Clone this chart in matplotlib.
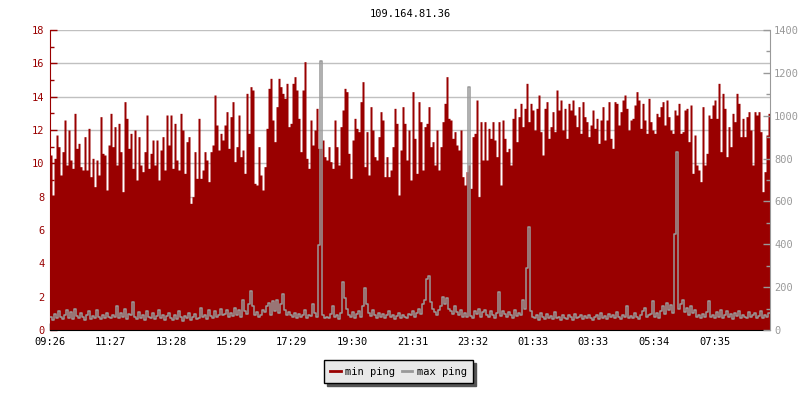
import numpy as np
import matplotlib
matplotlib.use("Agg")
import matplotlib.pyplot as plt
from matplotlib.lines import Line2D

title = "109.164.81.36"
start = "09:26"
step_min = 4  # one sample every 4 minutes, 24 h in total
tick_labels = ["09:26", "11:27", "13:28", "15:29", "17:29", "19:30",
               "21:31", "23:32", "01:33", "03:33", "05:34", "07:35"]
series_names = ["min ping", "max ping"]

# min ping (ms, left axis), one row = 2 hours
min_ping = [
    10.5, 8.1, 10.3, 11.7, 11.0, 9.3, 10.7, 12.6, 9.9, 12.0, 10.2, 9.7, 13.0, 10.9, 11.2,
    9.8, 9.6, 11.6, 9.6, 12.1, 9.2, 10.3, 8.6, 10.2, 9.3, 12.8, 10.6, 10.5, 8.4, 11.1,
    13.0, 11.0, 12.2, 9.9, 12.4, 10.7, 8.3, 13.7, 12.7, 10.9, 11.8, 9.7, 12.0, 9.0, 11.6,
    9.9, 9.5, 10.7, 12.9, 9.7, 10.6, 11.4, 9.9, 11.4, 9.0, 10.8, 11.6, 9.6, 12.9, 11.1,
    12.9, 9.7, 12.4, 10.2, 9.6, 13.0, 12.0, 9.4, 11.3, 11.6, 7.6, 8.0, 10.7, 9.1, 12.7,
    9.1, 9.6, 10.7, 10.2, 8.9, 10.7, 11.1, 14.1, 12.3, 10.8, 11.8, 11.4, 12.3, 13.1, 10.9,
    12.8, 13.7, 10.1, 11.0, 12.9, 10.4, 10.8, 9.4, 14.2, 11.8, 14.6, 14.4, 8.8, 8.7, 11.0,
    9.3, 8.4, 9.8, 12.1, 14.5, 15.1, 12.6, 11.3, 13.4, 15.1, 14.6, 14.2, 13.9, 14.8, 12.2,
    12.4, 14.8, 15.2, 14.4, 12.7, 10.7, 14.4, 16.1, 10.3, 9.7, 12.6, 11.1, 12.0, 13.3, 10.9,
    10.9, 11.4, 10.4, 10.2, 11.0, 10.1, 9.7, 12.6, 11.0, 9.9, 12.2, 13.2, 14.5, 14.3, 10.6,
    9.1, 11.4, 12.7, 12.1, 11.9, 13.7, 14.9, 9.8, 11.9, 9.3, 13.4, 12.0, 10.4, 10.2, 11.6,
    13.1, 12.6, 9.2, 10.4, 9.2, 9.6, 11.0, 13.3, 12.4, 8.1, 10.8, 13.4, 12.4, 10.2, 12.0,
    9.0, 14.3, 11.5, 9.4, 13.7, 12.5, 9.6, 12.2, 12.4, 13.4, 11.0, 11.3, 9.9, 12.0, 9.6,
    11.0, 12.5, 13.6, 15.2, 12.7, 12.6, 11.5, 11.9, 11.1, 10.8, 12.0, 9.2, 8.7, 9.5, 9.9,
    8.5, 11.6, 11.8, 13.8, 8.0, 12.5, 10.2, 12.5, 10.2, 12.1, 11.5, 12.5, 11.4, 10.4, 12.5,
    8.7, 12.6, 11.5, 10.7, 10.9, 9.9, 12.7, 13.3, 11.3, 12.8, 13.6, 12.2, 13.3, 14.8, 12.5,
    13.6, 13.2, 12.0, 13.3, 14.1, 11.9, 10.5, 13.3, 13.7, 11.5, 12.2, 13.1, 11.9, 14.4, 13.2,
    13.8, 12.0, 13.3, 11.5, 13.6, 13.2, 13.8, 12.9, 12.2, 13.4, 11.8, 13.7, 12.8, 12.5, 11.6,
    12.3, 13.2, 12.1, 12.7, 11.2, 12.6, 13.4, 11.4, 12.6, 13.7, 11.5, 10.9, 13.7, 13.6, 12.3,
    13.1, 13.8, 14.1, 13.3, 12.0, 12.6, 12.7, 13.5, 14.3, 13.8, 12.1, 13.6, 12.6, 11.8, 13.9,
    12.5, 12.0, 11.8, 13.0, 12.8, 13.4, 13.7, 12.3, 13.8, 12.8, 12.0, 11.8, 13.2, 12.9, 13.6,
    11.8, 11.9, 13.2, 13.3, 11.3, 13.5, 9.4, 11.7, 9.9, 9.6, 8.9, 13.4, 9.9, 10.6, 12.9,
    12.7, 13.5, 13.8, 12.7, 14.8, 10.7, 14.2, 13.3, 10.4, 12.2, 11.0, 13.0, 12.5, 14.2, 13.6,
    11.6, 12.7, 11.6, 12.8, 13.1, 12.0, 9.9, 13.1, 12.9, 13.1, 11.9, 8.3, 9.5, 11.7, 13.0,
]

# max ping (ms, right axis), one row = 2 hours
max_ping = [
    62, 48, 75, 55, 90, 60, 52, 70, 95, 58, 85, 50, 100, 65, 55,
    78, 60, 48, 70, 88, 52, 66, 58, 95, 62, 50, 72, 56, 80, 60,
    55, 72, 60, 112, 58, 80, 62, 100, 50, 75, 68, 130, 60, 52, 85,
    58, 70, 48, 90, 62, 55, 78, 50, 66, 95, 58, 72, 48, 64, 80,
    58, 45, 70, 52, 88, 60, 42, 66, 55, 80, 48, 62, 75, 50, 58,
    105, 60, 72, 52, 95, 65, 58, 90, 62, 70, 100, 68, 75, 92, 60,
    80, 65, 102, 70, 95, 60, 140, 88, 75, 120, 180, 110, 72, 85, 62,
    70, 95, 82, 110, 125, 70, 135, 90, 140, 78, 120, 168, 95, 70, 85,
    70, 62, 80, 55, 75, 60, 68, 95, 58, 72, 65, 120, 80, 60, 395,
    1255, 70, 58, 62, 55, 75, 110, 60, 68, 52, 80, 225, 150, 100, 70,
    62, 85, 58, 75, 90, 60, 110, 195, 120, 80, 66, 95, 72, 58, 80,
    62, 75, 55, 68, 90, 60, 72, 52, 65, 80, 58, 70, 62, 55, 75,
    70, 90, 62, 80, 100, 75, 120, 140, 238, 252, 130, 100, 85, 70, 95,
    110, 155, 120, 150, 100, 90, 75, 110, 85, 70, 95, 62, 80, 60, 1134,
    65, 58, 90, 75, 100, 60, 82, 95, 70, 62, 88, 72, 58, 80, 178,
    66, 90, 75, 60, 85, 70, 58, 95, 66, 80, 72, 140, 100, 290, 481,
    90, 62, 55, 70, 48, 78, 60, 52, 75, 58, 66, 50, 82, 56, 60,
    45, 70, 58, 52, 68, 62, 48, 75, 55, 60, 70, 50, 64, 58, 72,
    55, 45, 62, 70, 50, 80, 58, 66, 52, 75, 60, 68, 56, 85, 62,
    50, 72, 60, 112, 58, 66, 55, 78, 62, 50, 70, 88, 103, 60, 72,
    75, 135, 62, 80, 58, 90, 110, 75, 125, 95, 115, 80, 448, 831, 100,
    120, 140, 85, 105, 70, 112, 80, 95, 62, 70, 58, 75, 60, 85, 135,
    60, 72, 55, 85, 62, 95, 58, 70, 88, 60, 75, 52, 80, 66, 90,
    58, 72, 62, 55, 85, 60, 70, 78, 58, 65, 90, 55, 70, 62, 80,
]

RED = "#990000"
GREY = "#999999"


def minutes_after_start(hhmm):
    h, m = map(int, hhmm.split(":"))
    h0, m0 = map(int, start.split(":"))
    return (h * 60 + m - h0 * 60 - m0) % 1440


t = np.arange(len(min_ping) + 1) * step_min
lo = min_ping + min_ping[-1:]
hi = max_ping + max_ping[-1:]

plt.rcParams["font.family"] = "DejaVu Sans Mono"
plt.rcParams["font.size"] = 7.5

fig = plt.figure(figsize=(8, 4), dpi=100)
ax = fig.add_axes([0.0625, 0.175, 0.9, 0.75])
ax2 = ax.twinx()

# min ping as a filled step area
ax.fill_between(t, 0, lo, step="post", color=RED, lw=0)
ax.set_xlim(0, t[-1])
ax.set_ylim(0, 18)
ax.set_yticks(range(0, 19, 2))
ax.set_yticks(range(1, 18, 2), minor=True)
ax.grid(axis="y", color="#c0c0c0", lw=1)
ax.set_axisbelow(True)
ax.set_xticks([minutes_after_start(s) for s in tick_labels])
ax.set_xticklabels(tick_labels)
ax.tick_params(axis="x", direction="in", length=5, width=1, colors="black", pad=5)
ax.tick_params(axis="y", which="major", direction="in", length=5, width=1,
               colors=RED, pad=4)
ax.tick_params(axis="y", which="minor", direction="in", length=3, width=1, colors=RED)
ax.spines["left"].set_color(RED)
ax.spines["bottom"].set_color("black")
for s in ["top", "right"]:
    ax.spines[s].set_visible(False)

# max ping as a grey step line on the right axis
ax2.plot(t, hi, drawstyle="steps-post", color=GREY, lw=1.1)
ax2.set_ylim(0, 1400)
ax2.set_yticks(range(0, 1401, 200))
ax2.set_yticks(range(100, 1400, 200), minor=True)
ax2.tick_params(axis="y", which="major", direction="in", length=5, width=1,
                colors=GREY, pad=3)
ax2.tick_params(axis="y", which="minor", direction="in", length=3, width=1, colors=GREY)
ax2.spines["right"].set_color(GREY)
for s in ["top", "left", "bottom"]:
    ax2.spines[s].set_visible(False)

fig.text(0.5125, 1 - 14 / 400, title, ha="center", va="center")

handles = [Line2D([], [], color=RED, lw=2), Line2D([], [], color=GREY, lw=2)]
leg = fig.legend(handles, series_names, loc="center", bbox_to_anchor=(0.498, 0.071),
                 ncol=2, fancybox=False, edgecolor="black", facecolor="#e8e8e8",
                 framealpha=1, shadow={"color": "#555555", "alpha": 1},
                 handlelength=1.05, handletextpad=0.4, columnspacing=0.6,
                 borderpad=0.6, borderaxespad=0, fontsize=7.5)
leg.get_frame().set_linewidth(1)

fig.savefig("out.png", dpi=100)
